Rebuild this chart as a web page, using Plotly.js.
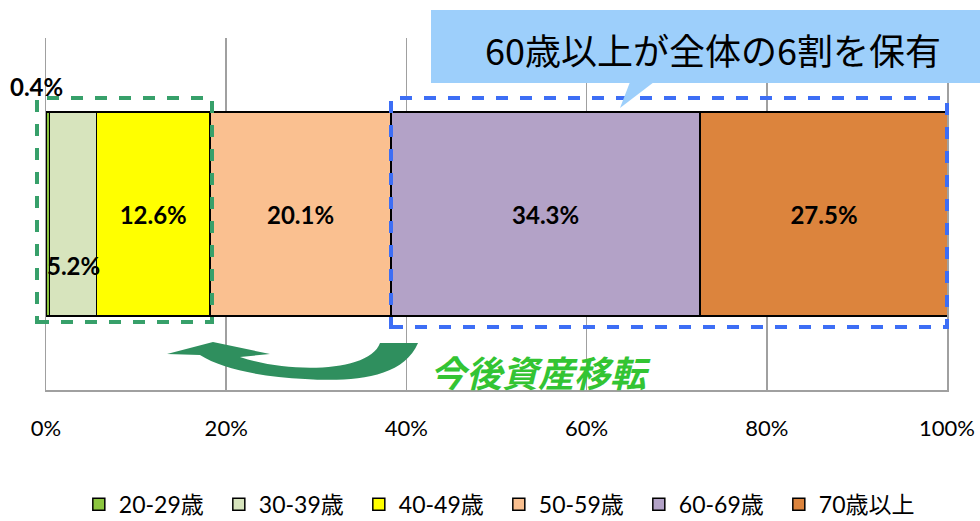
<!DOCTYPE html>
<html>
<head>
<meta charset="utf-8">
<script src="https://cdn.plot.ly/plotly-3.0.1.min.js"></script>
<style>html,body{margin:0;padding:0;background:#fff;}#chart{width:980px;height:521px;}</style>
</head>
<body>
<div id="chart"></div>
<script>
// ---- data ----
const ageGroups = ['20-29歳', '30-39歳', '40-49歳', '50-59歳', '60-69歳', '70歳以上'];
const shares = [0.4, 5.2, 12.6, 20.1, 34.3, 27.5];
const barColors = ['#8CC63F', '#D7E4BD', '#FFFF00', '#FAC090', '#B3A2C7', '#DC843D'];
const xTickVals = [0, 20, 40, 60, 80, 100];
const xTickText = ['0%', '20%', '40%', '60%', '80%', '100%'];
const calloutText = '60歳以上が全体の6割を保有';
const transferText = '今後資産移転';

const FONT = 'Lato, "Noto Sans CJK JP", sans-serif';
const CJK = '"Noto Sans CJK JP", sans-serif';
const fmt = v => v.toFixed(1) + '%';

const traces = ageGroups.map((name, i) => ({
  type: 'bar',
  orientation: 'h',
  name: name,
  x: [shares[i]],
  y: [0],
  width: 0.58,
  marker: { color: barColors[i], line: { color: '#000', width: 1.5 } },
  text: i >= 2 ? [fmt(shares[i])] : [''],
  textposition: 'inside',
  insidetextanchor: 'middle',
  textfont: { family: FONT, size: 24, color: '#000', weight: 'bold' },
  hoverinfo: 'name+x'
}));

// px -> paper helpers (plot area: left 46, right 947, top 38, bottom 390)
const L = 46, R = 947, T = 38, B = 390;
const px = x => (x - L) / (R - L);
const py = y => (B - y) / (B - T);

const arrowPts = [
  ['M', 167, 354], ['L', 213, 342], ['L', 270, 354], ['L', 240, 357],
  ['C', 290, 374, 370, 372, 380, 343], ['L', 418, 343],
  ['C', 403, 379, 350, 382, 305, 379], ['C', 262, 377, 222, 369, 200, 355], ['Z']
];
const arrowPath = arrowPts.map(p => {
  if (p[0] === 'Z') return 'Z';
  let s = p[0];
  for (let k = 1; k < p.length; k += 2) s += ' ' + px(p[k]).toFixed(4) + ',' + py(p[k + 1]).toFixed(4);
  return s;
}).join(' ');

const tri = `M ${px(620)},${py(108)} L ${px(630)},${py(82)} L ${px(654)},${py(82)} Z`;

const shapes = [
  { type: 'rect', xref: 'paper', yref: 'paper', x0: px(37), x1: px(212), y0: py(322), y1: py(98),
    line: { color: '#37A06A', width: 4, dash: 'dash' }, fillcolor: 'rgba(0,0,0,0)' },
  { type: 'rect', xref: 'paper', yref: 'paper', x0: px(391), x1: px(947), y0: py(327), y1: py(98),
    line: { color: '#3D6EF5', width: 4, dash: 'dash' }, fillcolor: 'rgba(0,0,0,0)' },
  { type: 'rect', xref: 'paper', yref: 'paper', x0: px(431), x1: px(990), y0: py(83), y1: py(10),
    line: { width: 0 }, fillcolor: '#9DCFFB', layer: 'above' },
  { type: 'path', xref: 'paper', yref: 'paper', path: tri, line: { width: 0 }, fillcolor: '#9DCFFB', layer: 'above' },
  { type: 'path', xref: 'paper', yref: 'paper', path: arrowPath, line: { width: 0 }, fillcolor: '#2F8F5E', layer: 'above' }
];

const annotations = [
  { xref: 'x', yref: 'paper', x: shares[0] / 2, y: py(87), text: fmt(shares[0]), showarrow: false,
    xanchor: 'center', yanchor: 'middle', xshift: -11,
    font: { family: FONT, size: 24, color: '#000', weight: 'bold' } },
  { xref: 'x', yref: 'paper', x: shares[0] + shares[1] / 2, y: py(265), text: fmt(shares[1]), showarrow: false,
    xanchor: 'center', yanchor: 'middle',
    font: { family: FONT, size: 24, color: '#000', weight: 'bold' } },
  { xref: 'paper', yref: 'paper', x: px(713), y: py(49), text: calloutText, showarrow: false,
    xanchor: 'center', yanchor: 'middle',
    font: { family: CJK, size: 36, color: '#000' } },
  { xref: 'paper', yref: 'paper', x: px(540), y: py(371), text: transferText, showarrow: false,
    xanchor: 'center', yanchor: 'middle',
    font: { family: CJK, size: 36, color: '#33C433', weight: 'bold', style: 'italic' } }
];

const layout = {
  width: 980, height: 521,
  margin: { l: L, r: 980 - R, t: T, b: 521 - B },
  paper_bgcolor: '#fff', plot_bgcolor: '#fff',
  barmode: 'stack',
  showlegend: true,
  legend: {
    orientation: 'h', xref: 'container', yref: 'container', x: 0.509, xanchor: 'center', y: 0.032, yanchor: 'middle',
    font: { family: FONT, size: 23, color: '#000' }, entrywidth: 95, itemwidth: 30, traceorder: 'normal'
  },
  xaxis: {
    range: [0, 100], tickvals: xTickVals, ticktext: xTickText,
    showgrid: true, gridcolor: '#A0A0A0', gridwidth: 1.5,
    showline: true, linecolor: '#A0A0A0', linewidth: 2,
    zeroline: false, ticks: '', ticklen: 0, ticklabelstandoff: 18,
    tickfont: { family: FONT, size: 22, color: '#000' }
  },
  yaxis: { range: [-0.5, 0.5], showticklabels: false, showgrid: false, zeroline: false, fixedrange: true,
    showline: true, mirror: true, linecolor: '#A0A0A0', linewidth: 1.5 },
  shapes: shapes,
  annotations: annotations
};

Plotly.newPlot('chart', traces, layout, { displayModeBar: false, staticPlot: true });
</script>
</body>
</html>
